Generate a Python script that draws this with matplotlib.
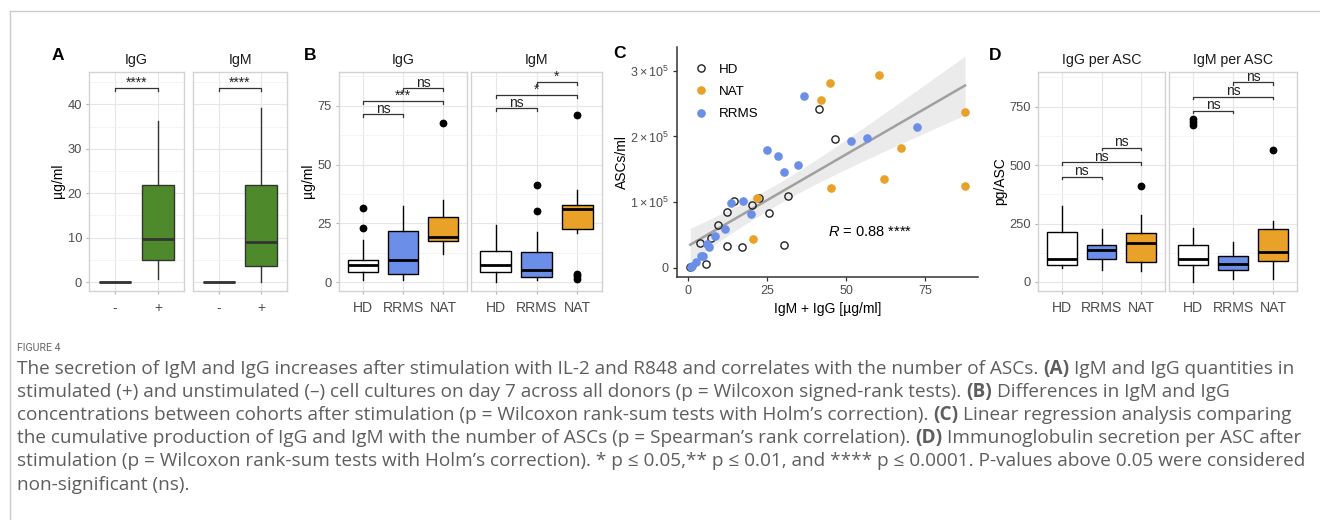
import numpy as np
import matplotlib
matplotlib.use('Agg')
import matplotlib.pyplot as plt
from matplotlib.lines import Line2D

plt.rcParams['font.family'] = ['Liberation Sans', 'DejaVu Sans']
plt.rcParams['mathtext.fontset'] = 'custom'
plt.rcParams['mathtext.rm'] = 'Liberation Sans'
plt.rcParams['mathtext.it'] = 'Liberation Sans:italic'

W, H = 1320, 520

# ---- panel A: stimulated (+) vs unstimulated (-) ----
A_groups = ['-', '+']
A_igg = dict(q1=[0, 5.0], med=[0, 9.8], q3=[0, 21.8], lo=[0, 0.7], hi=[0, 36.3], fl=[[], []])
A_igm = dict(q1=[0, 3.7], med=[0, 9.0], q3=[0, 21.8], lo=[0, 0.0], hi=[0, 39.2], fl=[[], []])

# ---- panel B: concentrations per cohort ----
cohorts = ['HD', 'RRMS', 'NAT']
B_igg = dict(q1=[4.3, 3.4, 17.3], med=[7.2, 9.6, 19.1], q3=[9.5, 21.8, 27.5],
             lo=[0.7, 0.7, 11.9], hi=[18.0, 32.3, 35.0],
             fl=[[22.8, 31.6], [], [67.9]])
B_igm = dict(q1=[4.4, 2.0, 22.5], med=[7.4, 5.2, 31.0], q3=[13.3, 12.9, 33.0],
             lo=[0.0, 0.7, 21.0], hi=[24.4, 21.3, 39.0],
             fl=[[], [30.3, 41.1], [71.0, 3.5, 2.5, 1.5]])
B_igg_sig = [(1, 2, 71.5, 'ns'), (1, 3, 77.0, '***'), (2, 3, 82.5, 'ns')]
B_igm_sig = [(1, 2, 74.0, 'ns'), (1, 3, 79.6, '*'), (2, 3, 85.0, '*')]

# ---- panel C: ASCs vs IgM + IgG ----
hd_x = [0.7, 3.8, 5.7, 7.2, 9.6, 12.2, 12.4, 14.6, 17.0, 20.3, 22.4, 25.6, 30.3, 31.6, 41.4, 46.4]
hd_y = [2e3, 38e3, 6e3, 45e3, 65e3, 85e3, 34e3, 102e3, 32e3, 96e3, 107e3, 83e3, 34.5e3, 109e3, 242e3, 196e3]
nat_x = [20.7, 21.9, 42.1, 45.0, 45.4, 60.4, 61.9, 67.3, 87.7, 87.7]
nat_y = [44e3, 107e3, 255e3, 282e3, 121e3, 294e3, 136e3, 182e3, 237e3, 125e3]
rrms_x = [1.0, 1.4, 2.4, 4.0, 4.6, 5.9, 6.7, 8.5, 11.8, 13.5, 17.5, 19.8, 24.9, 28.6, 30.5, 34.8, 36.8, 51.5, 56.7, 72.4]
rrms_y = [1.5e3, 2.5e3, 9.6e3, 18e3, 18e3, 36.5e3, 32e3, 49e3, 59e3, 98.5e3, 102e3, 82e3, 180e3, 171e3, 146e3,
          156e3, 261e3, 193e3, 197e3, 214e3]

# ---- panel D: secretion per ASC ----
D_igg = dict(q1=[71, 97, 84], med=[100, 135, 168], q3=[213, 159, 211],
             lo=[60, 53, 48], hi=[327, 228, 285], fl=[[], [], [411]])
D_igm = dict(q1=[73, 50, 90], med=[100, 78, 128], q3=[158, 111, 226],
             lo=[0, 14, 14], hi=[229, 171, 260], fl=[[696, 684, 673], [], [566]])
D_igg_sig = [(1, 2, 451, 'ns'), (1, 3, 512, 'ns'), (2, 3, 575, 'ns')]
D_igm_sig = [(1, 2, 733, 'ns'), (1, 3, 793, 'ns'), (2, 3, 855, 'ns')]

WHITE, BLUE, ORANGE, GREEN = '#FFFFFF', '#6B8FE8', '#E9A227', '#4E8A2B'
TICK = '#4D4D4D'

fig = plt.figure(figsize=(W / 100, H / 100), dpi=100)


def add_ax(x0, y0, x1, y1):
    return fig.add_axes([x0 / W, 1 - y1 / H, (x1 - x0) / W, (y1 - y0) / H])


def facet(ax, ylim, major, minor, labels, show_y):
    ax.set_xlim(0.4, len(labels) + 0.6)
    ax.set_ylim(*ylim)
    ax.set_xticks(range(1, len(labels) + 1))
    ax.set_xticklabels(labels, fontsize=10.1, color=TICK)
    ax.set_yticks(major)
    ax.set_yticks(minor, minor=True)
    ax.tick_params(axis='y', which='minor', length=0)
    ax.tick_params(axis='y', which='major', labelsize=9.3)
    ax.tick_params(axis='both', which='major', length=2, color='#B3B3B3',
                   labelcolor=TICK, pad=3)
    ax.tick_params(axis='x', pad=5)
    if not show_y:
        ax.tick_params(axis='y', which='both', length=0, labelleft=False)
    ax.grid(True, which='major', color='#E6E6E6', lw=0.8)
    ax.grid(True, which='minor', axis='y', color='#F3F3F3', lw=0.6)
    ax.set_axisbelow(True)
    for s in ax.spines.values():
        s.set_color('#D3D3D3')
        s.set_linewidth(1.0)


def boxes(ax, d, colors, edge='black'):
    stats = []
    for i in range(len(colors)):
        stats.append(dict(q1=d['q1'][i], med=d['med'][i], q3=d['q3'][i],
                          whislo=d['lo'][i], whishi=d['hi'][i], fliers=d['fl'][i]))
    bp = ax.bxp(stats, positions=range(1, len(colors) + 1), widths=0.75, patch_artist=True,
                showcaps=False, manage_ticks=False,
                boxprops=dict(edgecolor=edge, linewidth=1.0),
                medianprops=dict(color=edge, linewidth=2.0),
                whiskerprops=dict(color=edge, linewidth=1.0),
                flierprops=dict(marker='o', markerfacecolor='black', markeredgecolor='black',
                                markersize=4.6))
    for p, c in zip(bp['boxes'], colors):
        p.set_facecolor(c)


def bracket(ax, x1, x2, y, label, tip):
    ax.plot([x1, x1, x2, x2], [y - tip, y, y, y - tip], color='#333333', lw=0.9, zorder=4)
    ax.annotate(label, xy=((x1 + x2) / 2, y), xytext=(0, 0.8), textcoords='offset points',
                ha='center', va='baseline', fontsize=10, color='#222222')


def strip(xc, text):
    fig.text(xc / W, 1 - 60 / H, text, ha='center', va='center', fontsize=10.2, color='#1A1A1A')


def letter(x, y, s):
    fig.text(x / W, 1 - y / H, s, ha='center', va='center', fontsize=12.5, fontweight='bold')


def ylab(x, y, s):
    fig.text(x / W, 1 - y / H, s, ha='center', va='center', rotation=90, fontsize=10)


# ---------------- A ----------------
a1 = add_ax(89, 72, 184, 291)
a2 = add_ax(193, 72, 287, 291)
for ax, d, show in [(a1, A_igg, True), (a2, A_igm, False)]:
    boxes(ax, d, [GREEN, GREEN], edge='#333333')
    facet(ax, (-2.0, 47.3), [0, 10, 20, 30, 40], [5, 15, 25, 35, 45], A_groups, show)
    bracket(ax, 1, 2, 43.8, '****', 0.7)
strip(136.5, 'IgG')
strip(240, 'IgM')
letter(58, 55, 'A')
ylab(58, 181, 'µg/ml')

# ---------------- B ----------------
b1 = add_ax(339, 72, 467, 291)
b2 = add_ax(471, 72, 602, 291)
for ax, d, sig, show in [(b1, B_igg, B_igg_sig, True), (b2, B_igm, B_igm_sig, False)]:
    boxes(ax, d, [WHITE, BLUE, ORANGE])
    facet(ax, (-3.8, 89.4), [0, 25, 50, 75], [12.5, 37.5, 62.5, 87.5], cohorts, show)
    for x1, x2, y, lab in sig:
        bracket(ax, x1, x2, y, lab, 1.3)
strip(403, 'IgG')
strip(536.5, 'IgM')
letter(310, 55, 'B')
ylab(308, 181, 'µg/ml')

# ---------------- C ----------------
c = add_ax(677, 47, 978, 277)
all_x = np.array(hd_x + nat_x + rrms_x)
all_y = np.array(hd_y + nat_y + rrms_y)
slope, icpt = np.polyfit(all_x, all_y, 1)
xs = np.linspace(all_x.min(), all_x.max(), 100)
n = len(all_x)
resid = all_y - (slope * all_x + icpt)
s = np.sqrt((resid ** 2).sum() / (n - 2))
se = s * np.sqrt(1 / n + (xs - all_x.mean()) ** 2 / ((all_x - all_x.mean()) ** 2).sum())
fit = slope * xs + icpt
c.fill_between(xs, fit - 2.015 * se, fit + 2.015 * se, color='#EBEBEB', lw=0, zorder=1)
c.plot(xs, fit, color='#A0A0A0', lw=1.8, zorder=2)
c.plot(hd_x, hd_y, 'o', ms=5.2, mfc='none', mec='#222222', mew=1.0, label='HD', zorder=3)
c.plot(nat_x, nat_y, 'o', ms=5.2, color=ORANGE, mec=ORANGE, label='NAT', zorder=3)
c.plot(rrms_x, rrms_y, 'o', ms=5.2, color=BLUE, mec=BLUE, label='RRMS', zorder=3)
c.set_xlim(-3.5, 91.8)
c.set_ylim(-13700, 3.36e5)
c.set_xticks([0, 25, 50, 75])
c.set_yticks([0, 1e5, 2e5, 3e5])
c.set_yticklabels(['0', r'$1\times10^5$', r'$2\times10^5$', r'$3\times10^5$'])
c.tick_params(axis='both', length=3, width=0.9, color='#333333', labelsize=9.0, labelcolor=TICK, pad=3)
for side in ['top', 'right']:
    c.spines[side].set_visible(False)
for side in ['left', 'bottom']:
    c.spines[side].set_color('#333333')
    c.spines[side].set_linewidth(1.1)
c.set_xlabel('IgM + IgG [µg/ml]', fontsize=10, labelpad=3)
c.text(44.3, 54.8e3, r'$R$ = 0.88 ****', fontsize=10.5, va='center', ha='left')
c.legend(loc='upper left', bbox_to_anchor=(0.025, 0.97), frameon=False, fontsize=9.6,
         handlelength=1.0, handletextpad=0.9, labelspacing=0.75, borderaxespad=0.3)
letter(620, 53, 'C')
ylab(622, 162, 'ASCs/ml')

# ---------------- D ----------------
d1 = add_ax(1038, 72, 1165, 291)
d2 = add_ax(1169, 72, 1297, 291)
for ax, d, sig, show in [(d1, D_igg, D_igg_sig, True), (d2, D_igm, D_igm_sig, False)]:
    boxes(ax, d, [WHITE, BLUE, ORANGE])
    facet(ax, (-38.5, 898), [0, 250, 500, 750], [125, 375, 625, 875], cohorts, show)
    for x1, x2, y, lab in sig:
        bracket(ax, x1, x2, y, lab, 12)
strip(1101.5, 'IgG per ASC')
strip(1233, 'IgM per ASC')
letter(995, 55, 'D')
ylab(1000, 181, 'pg/ASC')

# ---------------- frame + caption ----------------
fig.add_artist(Line2D([10 / W, 1], [1 - 11 / H, 1 - 11 / H], transform=fig.transFigure, color='#CCCCCC', lw=1))
fig.add_artist(Line2D([10 / W, 10 / W], [0, 1 - 11 / H], transform=fig.transFigure, color='#CCCCCC', lw=1))

fig.text(17 / W, 1 - 348 / H, 'FIGURE 4', fontsize=7.6, color='#666666', va='center', ha='left',
         family=['Roboto', 'DejaVu Sans'])

cap_lines = [
    [('The secretion of IgM and IgG increases after stimulation with IL-2 and R848 and correlates with the number of ASCs.', False),
     ('(A)', True), ('IgM and IgG quantities in', False)],
    [('stimulated (+) and unstimulated (–) cell cultures on day 7 across all donors (p = Wilcoxon signed-rank tests).', False),
     ('(B)', True), ('Differences in IgM and IgG', False)],
    [('concentrations between cohorts after stimulation (p = Wilcoxon rank-sum tests with Holm’s correction).', False),
     ('(C)', True), ('Linear regression analysis comparing', False)],
    [('the cumulative production of IgG and IgM with the number of ASCs (p = Spearman’s rank correlation).', False),
     ('(D)', True), ('Immunoglobulin secretion per ASC after', False)],
    [('stimulation (p = Wilcoxon rank-sum tests with Holm’s correction). * p ≤ 0.05,** p ≤ 0.01, and **** p ≤ 0.0001. P-values above 0.05 were considered', False)],
    [('non-significant (ns).', False)],
]
cap_y = [369, 392, 415, 438, 461, 485]
CAP_FS = 13.65
CAP_FONT = ['Open Sans', 'DejaVu Sans']
renderer = fig.canvas.get_renderer()
t1 = fig.text(0, 0, 'a a', fontsize=CAP_FS, family=CAP_FONT)
t2 = fig.text(0, 0, 'aa', fontsize=CAP_FS, family=CAP_FONT)
space_w = t1.get_window_extent(renderer).width - t2.get_window_extent(renderer).width
t1.remove()
t2.remove()
for y, runs in zip(cap_y, cap_lines):
    x = 17
    for txt, bold in runs:
        t = fig.text(x / W, 1 - y / H, txt, fontsize=CAP_FS, family=CAP_FONT, color='#5E5E5E',
                     fontweight='bold' if bold else 'normal', va='center', ha='left')
        x = t.get_window_extent(renderer).x1 + space_w

fig.savefig('out.png', dpi=100)
